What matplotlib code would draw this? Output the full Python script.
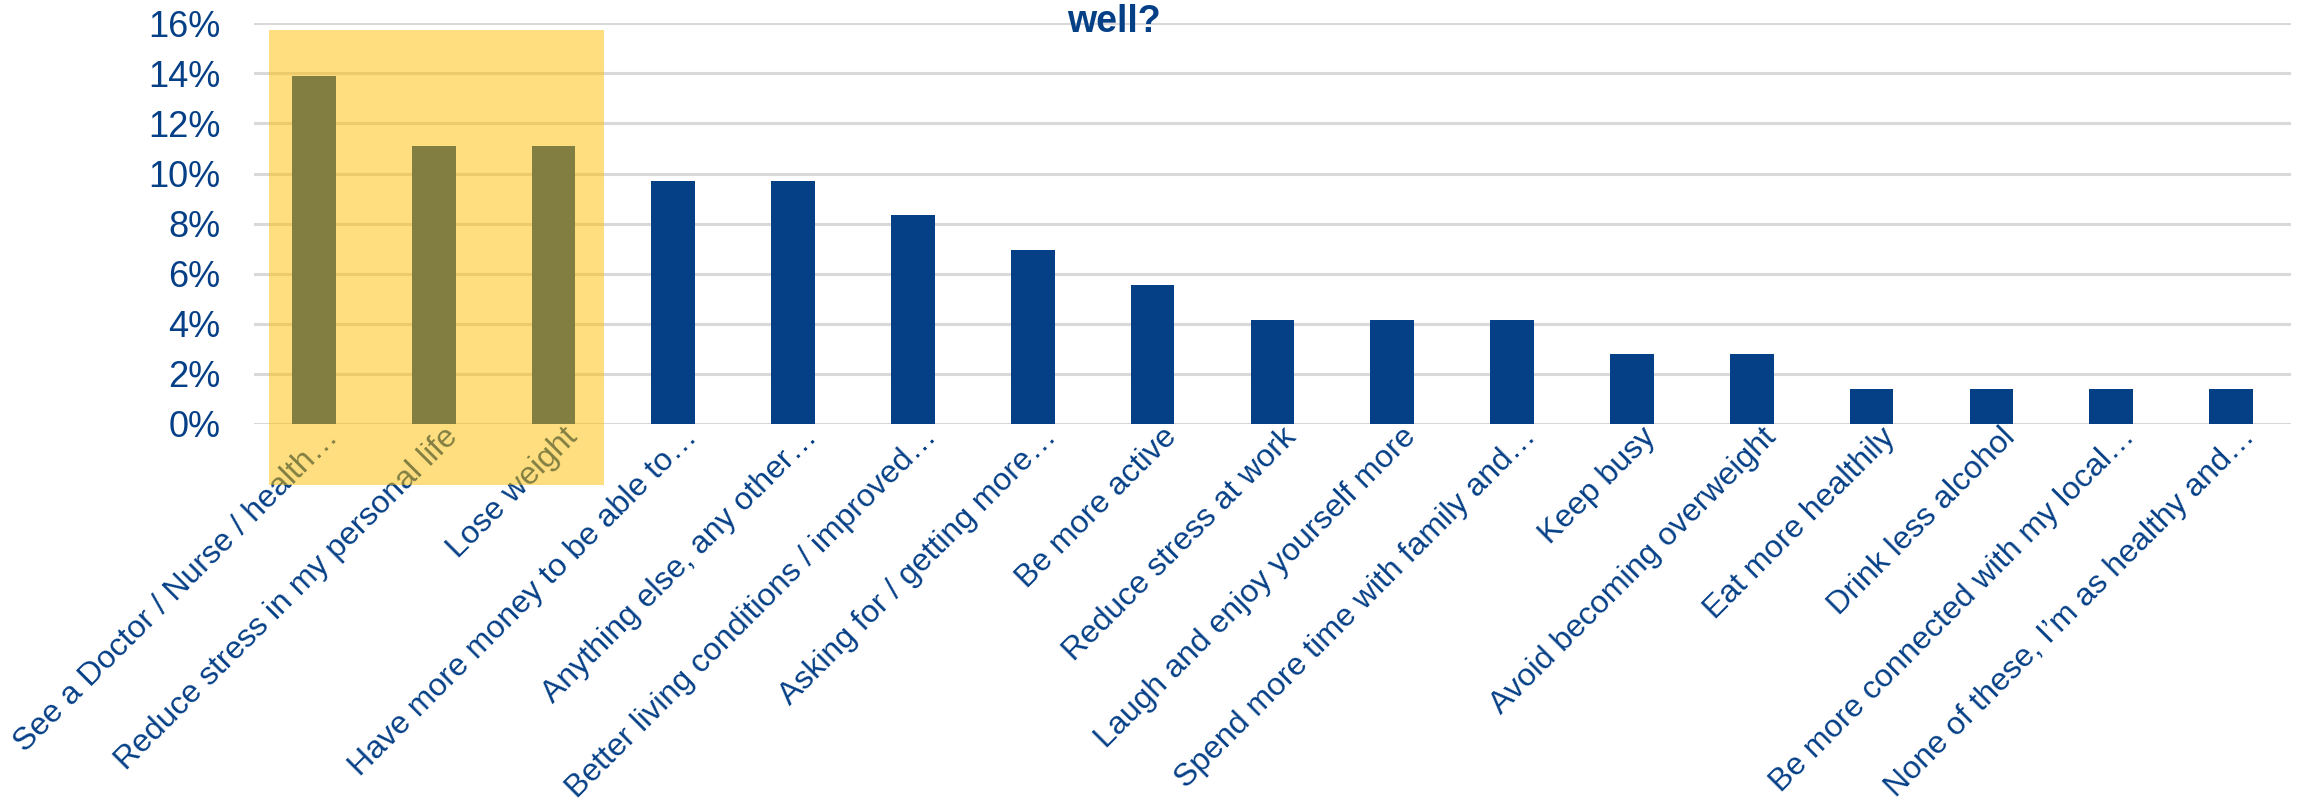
import matplotlib
matplotlib.use("Agg")
import matplotlib.pyplot as plt
import matplotlib.transforms as mtransforms
from matplotlib.patches import Rectangle
from matplotlib.ticker import FuncFormatter

BLUE = "#053F86"
GRID = "#D9D9D9"
HIGHLIGHT = "#FFBE00"

categories = [
    "See a Doctor / Nurse / health…",
    "Reduce stress in my personal life",
    "Lose weight",
    "Have more money to be able to…",
    "Anything else, any other…",
    "Better living conditions / improved…",
    "Asking for / getting more…",
    "Be more active",
    "Reduce stress at work",
    "Laugh and enjoy yourself more",
    "Spend more time with family and…",
    "Keep busy",
    "Avoid becoming overweight",
    "Eat more healthily",
    "Drink less alcohol",
    "Be more connected with my local…",
    "None of these, I’m as healthy and…",
]
values = [13.89, 11.11, 11.11, 9.72, 9.72, 8.33, 6.94, 5.56, 4.17,
          4.17, 4.17, 2.78, 2.78, 1.39, 1.39, 1.39, 1.39]
y_ticks = [0, 2, 4, 6, 8, 10, 12, 14, 16]

plt.rcParams["font.family"] = ["Liberation Sans", "DejaVu Sans"]

fig = plt.figure(figsize=(23.02, 8.07), dpi=100)
ax = fig.add_axes([0.1103, 0.4746, 0.8849, 0.4965])

x = list(range(len(categories)))
ax.bar(x, values, width=0.365, color=BLUE, zorder=3)

ax.set_xlim(-0.5, len(categories) - 0.5)
ax.set_ylim(0, 16)
ax.set_yticks(y_ticks)
ax.yaxis.set_major_formatter(FuncFormatter(lambda v, p: f"{v:.0f}%"))
ax.grid(axis="y", color=GRID, linewidth=2.2, zorder=0)
ax.set_axisbelow(True)
for spine in ax.spines.values():
    spine.set_visible(False)

ax.tick_params(axis="y", length=0, pad=24, labelsize=26, labelcolor=BLUE)
ax.tick_params(axis="x", length=0, pad=0)
ax.set_xticks(x)
ax.set_xticklabels(categories, rotation=45, ha="right", va="top",
                   rotation_mode="anchor", fontsize=23, color=BLUE)
shift = mtransforms.ScaledTranslation(0.09, 0.02, fig.dpi_scale_trans)
for lab in ax.get_xticklabels():
    lab.set_transform(lab.get_transform() + shift)

# semi-transparent highlight box over the first three categories
fig.add_artist(Rectangle((-0.375, -2.44), 2.795, 18.16,
                         transform=ax.transData, facecolor=HIGHLIGHT,
                         edgecolor="none", alpha=0.5, zorder=10,
                         clip_on=False))

fig.text(0.484, 0.960, "well?", ha="center", va="baseline",
         fontsize=27, fontweight="bold", color=BLUE)

fig.savefig("out.png", dpi=100)
